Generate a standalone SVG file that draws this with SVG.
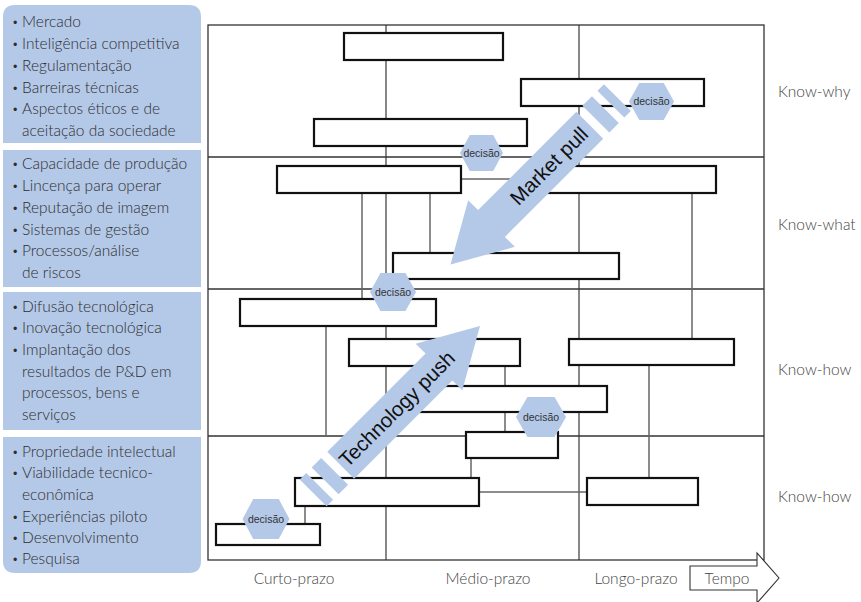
<svg xmlns="http://www.w3.org/2000/svg" xmlns:xlink="http://www.w3.org/1999/xlink" width="861" height="602" viewBox="0 0 861 602">
<style>
.panel{fill:#b4c8e8}
.pt{font-family:Lato,"Open Sans","Liberation Sans",sans-serif;font-size:15.5px;font-weight:300;fill:#2e2e2e}
.bu{font-size:11px}
.lbl{font-family:Lato,"Open Sans","Liberation Sans",sans-serif;font-size:15.5px;font-weight:300;fill:#444}
.grid{stroke:#333;stroke-width:1.3;fill:none}
.vgrid{stroke:#555;stroke-width:1.4;fill:none}
.conn{stroke:#666;stroke-width:1.5;fill:none}
.box{fill:#fff;stroke:#111;stroke-width:2.2}
.hex{fill:#b4c8e8}
.ht{font-family:"Liberation Sans",Arial,sans-serif;font-size:10.5px;fill:#333;text-anchor:middle}
.big{fill:#b4c8e8}
.at{font-family:"Liberation Sans",Arial,sans-serif;font-size:20.5px;fill:#111;text-anchor:middle}
</style>
<defs>
<polygon id="hexshape" points="-23,0 -12.5,-20 12.5,-20 23,0 12.5,20 -12.5,20"/>
<g id="bigArrow">
<polygon points="0,0 -58,-33 -58,-19 -197,-19 -197,19 -58,19 -58,33"/>
<rect x="-219" y="-19" width="13.4" height="38"/>
<rect x="-236" y="-19" width="9.2" height="38"/>
</g>
</defs>

<!-- left panels -->
<g id="panel1">
<path class="panel" d="M3,143 V17 Q3,5 15,5 H189 Q201,5 201,17 V143 Z"/>
<text class="pt"><tspan class="bu" x="12" y="26">•</tspan><tspan x="22" y="27">Mercado</tspan></text>
<text class="pt"><tspan class="bu" x="12" y="48">•</tspan><tspan x="22" y="49">Inteligência competitiva</tspan></text>
<text class="pt"><tspan class="bu" x="12" y="70">•</tspan><tspan x="22" y="71">Regulamentação</tspan></text>
<text class="pt"><tspan class="bu" x="12" y="92">•</tspan><tspan x="22" y="93">Barreiras técnicas</tspan></text>
<text class="pt"><tspan class="bu" x="12" y="113">•</tspan><tspan x="22" y="114">Aspectos éticos e de</tspan></text>
<text class="pt" x="22" y="136">aceitação da sociedade</text>
</g>
<g id="panel2">
<rect class="panel" x="3" y="150" width="198" height="137"/>
<text class="pt"><tspan class="bu" x="12" y="168">•</tspan><tspan x="22" y="169">Capacidade de produção</tspan></text>
<text class="pt"><tspan class="bu" x="12" y="190">•</tspan><tspan x="22" y="191">Lincença para operar</tspan></text>
<text class="pt"><tspan class="bu" x="12" y="212">•</tspan><tspan x="22" y="213">Reputação de imagem</tspan></text>
<text class="pt"><tspan class="bu" x="12" y="234">•</tspan><tspan x="22" y="235">Sistemas de gestão</tspan></text>
<text class="pt"><tspan class="bu" x="12" y="255">•</tspan><tspan x="22" y="256">Processos/análise</tspan></text>
<text class="pt" x="22" y="278">de riscos</text>
</g>
<g id="panel3">
<rect class="panel" x="3" y="292" width="198" height="138"/>
<text class="pt"><tspan class="bu" x="12" y="311">•</tspan><tspan x="22" y="312">Difusão tecnológica</tspan></text>
<text class="pt"><tspan class="bu" x="12" y="332">•</tspan><tspan x="22" y="333">Inovação tecnológica</tspan></text>
<text class="pt"><tspan class="bu" x="12" y="354">•</tspan><tspan x="22" y="355">Implantação dos</tspan></text>
<text class="pt" x="22" y="377">resultados de P&amp;D em</text>
<text class="pt" x="22" y="398">processos, bens e</text>
<text class="pt" x="22" y="420">serviços</text>
</g>
<g id="panel4">
<path class="panel" d="M3,437 H201 V561 Q201,573 189,573 H15 Q3,573 3,561 Z"/>
<text class="pt"><tspan class="bu" x="12" y="456">•</tspan><tspan x="22" y="457">Propriedade intelectual</tspan></text>
<text class="pt"><tspan class="bu" x="12" y="477">•</tspan><tspan x="22" y="478">Viabilidade tecnico-</tspan></text>
<text class="pt" x="22" y="500">econômica</text>
<text class="pt"><tspan class="bu" x="12" y="521">•</tspan><tspan x="22" y="522">Experiências piloto</tspan></text>
<text class="pt"><tspan class="bu" x="12" y="542">•</tspan><tspan x="22" y="543">Desenvolvimento</tspan></text>
<text class="pt"><tspan class="bu" x="12" y="563">•</tspan><tspan x="22" y="564">Pesquisa</tspan></text>
</g>

<!-- grid -->
<g id="grid">
<line class="vgrid" x1="386" y1="25" x2="386" y2="560"/>
<line class="vgrid" x1="579" y1="25" x2="579" y2="560"/>
<line class="grid" x1="208" y1="157" x2="764" y2="157"/>
<line class="grid" x1="208" y1="289" x2="764" y2="289"/>
<line class="grid" x1="208" y1="436" x2="764" y2="436"/>
<rect class="grid" x="208" y="25" width="556" height="535"/>
</g>

<!-- connectors -->
<g id="connectors">
<line class="conn" x1="362" y1="193" x2="362" y2="299"/>
<line class="conn" x1="430" y1="193" x2="430" y2="253"/>
<line class="conn" x1="692" y1="193" x2="692" y2="339"/>
<line class="conn" x1="461" y1="179" x2="530" y2="179"/>
<line class="conn" x1="326" y1="326" x2="326" y2="436"/>
<line class="conn" x1="505" y1="366" x2="505" y2="386"/>
<line class="conn" x1="505" y1="412" x2="505" y2="432"/>
<line class="conn" x1="471" y1="458" x2="471" y2="478"/>
<line class="conn" x1="305" y1="506" x2="305" y2="524"/>
<line class="conn" x1="479" y1="492" x2="587" y2="492"/>
<line class="conn" x1="649" y1="365" x2="649" y2="478"/>
</g>

<!-- boxes -->
<g id="b1"><rect class="box" x="344" y="33" width="159" height="27"/></g>
<g id="b2"><rect class="box" x="521" y="79" width="183" height="27"/></g>
<g id="b3"><rect class="box" x="314" y="119" width="213" height="27"/></g>
<g id="b4"><rect class="box" x="277" y="166" width="184" height="27"/></g>
<g id="b5"><rect class="box" x="530" y="166" width="186" height="27"/></g>
<g id="b6"><rect class="box" x="393" y="253" width="226" height="26"/></g>
<g id="b7"><rect class="box" x="240" y="299" width="196" height="27"/></g>
<g id="b8"><rect class="box" x="349" y="339" width="171" height="27"/></g>
<g id="b9"><rect class="box" x="405" y="386" width="202" height="26"/></g>
<g id="b10"><rect class="box" x="569" y="339" width="165" height="26"/></g>
<g id="b11"><rect class="box" x="466" y="432" width="92" height="26"/></g>
<g id="b12"><rect class="box" x="587" y="478" width="111" height="27"/></g>
<g id="b13"><rect class="box" x="295" y="478" width="184" height="28"/></g>
<g id="b14"><rect class="box" x="216" y="524" width="104" height="21"/></g>

<!-- big arrows -->
<g id="market-pull">
<use xlink:href="#bigArrow" href="#bigArrow" class="big" transform="translate(450.5,264.5) rotate(135)"/>
<text class="at" transform="translate(549,166) rotate(-45)" y="7">Market pull</text>
</g>
<g id="technology-push">
<use xlink:href="#bigArrow" href="#bigArrow" class="big" transform="translate(480,326) rotate(-45)"/>
<text class="at" transform="translate(397,409) rotate(-45)" y="7">Technology push</text>
</g>

<!-- decision hexagons -->
<g id="h1"><use href="#hexshape" class="hex" transform="translate(481.5,153) scale(0.935,0.9)"/><text class="ht" x="481.5" y="156.5">decisão</text></g>
<g id="h2"><use href="#hexshape" class="hex" transform="translate(651.5,101.5) scale(0.98,0.925)"/><text class="ht" x="651.5" y="105">decisão</text></g>
<g id="h3"><use href="#hexshape" class="hex" transform="translate(393,292) scale(1,0.95)"/><text class="ht" x="393" y="295.5">decisão</text></g>
<g id="h4"><use href="#hexshape" class="hex" transform="translate(541,417) scale(1.087,1)"/><text class="ht" x="541" y="420.5">decisão</text></g>
<g id="h5"><use href="#hexshape" class="hex" transform="translate(266,519) scale(1.02,1)"/><text class="ht" x="266" y="522.5">decisão</text></g>

<!-- right and bottom labels -->
<g id="labels">
<text class="lbl" x="778" y="97">Know-why</text>
<text class="lbl" x="778" y="230">Know-what</text>
<text class="lbl" x="778" y="375">Know-how</text>
<text class="lbl" x="778" y="502">Know-how</text>
<text class="lbl" x="294" y="584" text-anchor="middle">Curto-prazo</text>
<text class="lbl" x="488" y="584" text-anchor="middle">Médio-prazo</text>
<text class="lbl" x="636" y="584" text-anchor="middle">Longo-prazo</text>
</g>

<g id="tempo">
<polygon points="690,566 757,566 757,553 779,578 757,603 757,590 690,590" fill="#fff" stroke="#333" stroke-width="1.1"/>
<text class="lbl" x="727" y="584" text-anchor="middle">Tempo</text>
</g>
</svg>
